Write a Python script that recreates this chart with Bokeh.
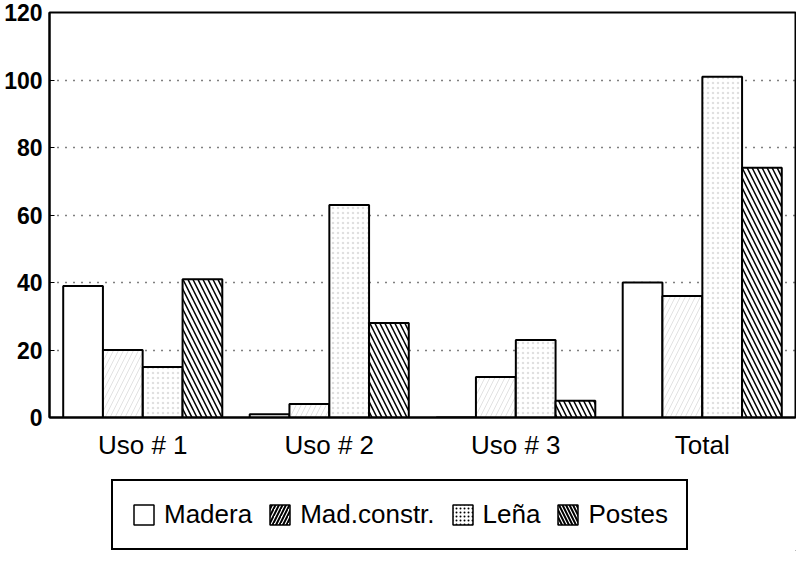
from bokeh.plotting import figure
from bokeh.models import (FactorRange, Range1d, FixedTicker, Legend, LegendItem,
                          ColumnDataSource)
from bokeh.layouts import column
from bokeh.transform import dodge
from bokeh.embed import file_html
from bokeh.resources import INLINE

categories = ["Uso # 1", "Uso # 2", "Uso # 3", "Total"]
madera = [39, 1, 0, 40]
mad_constr = [20, 4, 12, 36]
lena = [15, 63, 23, 101]
postes = [41, 28, 5, 74]
series_names = ["Madera", "Mad.constr.", "Leña", "Postes"]
y_ticks = [0, 20, 40, 60, 80, 100, 120]

FONT = "Liberation Sans"

source = ColumnDataSource(dict(cat=categories, madera=madera, mad_constr=mad_constr,
                               lena=lena, postes=postes))

p = figure(width=796, height=462, x_range=FactorRange(factors=categories),
           y_range=Range1d(0, 120), output_backend="svg", toolbar_location=None,
           min_border_left=49, min_border_right=1, min_border_top=12, min_border_bottom=42)

offsets = [-0.32, -0.107, 0.107, 0.32]
bw = 0.213
cols = ["madera", "mad_constr", "lena", "postes"]
bar_styles = [
    dict(hatch_pattern=" "),
    dict(hatch_pattern="/", hatch_color="#e2e2e2", hatch_scale=10, hatch_weight=1),
    dict(hatch_pattern=".", hatch_color="#e0e0e0", hatch_scale=5, hatch_weight=1),
    dict(hatch_pattern="\\", hatch_color="black", hatch_scale=10, hatch_weight=1.5),
]
leg_styles = [
    dict(hatch_pattern=" "),
    dict(hatch_pattern="/", hatch_color="black", hatch_scale=7, hatch_weight=2),
    dict(hatch_pattern=".", hatch_color="black", hatch_scale=4, hatch_weight=1),
    dict(hatch_pattern="\\", hatch_color="black", hatch_scale=7, hatch_weight=2),
]

for col, off, st in zip(cols, offsets, bar_styles):
    p.vbar(x=dodge("cat", off, range=p.x_range), top=col, width=bw, source=source,
           fill_color="white", line_color="black", line_width=2, **st)

p.xgrid.grid_line_color = None
p.ygrid.grid_line_color = "black"
p.ygrid.grid_line_dash = "1 7"
p.ygrid.grid_line_width = 1.3
p.ygrid.ticker = FixedTicker(ticks=y_ticks)

p.yaxis.ticker = FixedTicker(ticks=y_ticks)
p.yaxis.major_label_text_font = FONT
p.yaxis.major_label_text_font_style = "bold"
p.yaxis.major_label_text_font_size = "23px"
p.yaxis.major_label_text_color = "black"
p.yaxis.major_label_standoff = 7
p.yaxis.major_tick_out = 0
p.yaxis.major_tick_in = 5
p.yaxis.minor_tick_line_color = None
p.yaxis.axis_line_width = 2
p.yaxis.axis_line_color = "black"

p.xaxis.major_label_text_font = FONT
p.xaxis.major_label_text_font_size = "26px"
p.xaxis.major_label_text_color = "black"
p.xaxis.major_label_standoff = 12
p.xaxis.major_tick_out = 0
p.xaxis.major_tick_in = 0
p.xaxis.axis_line_width = 2
p.xaxis.axis_line_color = "black"

p.outline_line_color = "black"
p.outline_line_width = 2
p.background_fill_color = "white"
p.border_fill_color = "white"

# legend strip below the chart
lf = figure(width=796, height=89, x_range=Range1d(0, 1), y_range=Range1d(0, 1),
            output_backend="svg", toolbar_location=None,
            min_border_left=0, min_border_right=0, min_border_top=0, min_border_bottom=0)
lf.axis.visible = False
lf.grid.grid_line_color = None
lf.outline_line_color = None
lf.background_fill_color = "white"
lf.border_fill_color = "white"

items = []
for lst, name in zip(leg_styles, series_names):
    sw = ColumnDataSource(dict(x=[5], top=[-20], bottom=[-30]))
    r = lf.vbar(x="x", top="top", bottom="bottom", width=0.1, source=sw, fill_color="white",
                line_color="black", line_width=1.5, **lst)
    items.append(LegendItem(label=name, renderers=[r]))

legend = Legend(items=items, orientation="horizontal", location=(62, 1),
                label_text_font=FONT, label_text_font_size="26px", label_text_color="black",
                glyph_width=25, glyph_height=25, label_standoff=8, spacing=15,
                padding=18, margin=0, border_line_color="black", border_line_width=2,
                border_line_alpha=1,
                background_fill_color="white", background_fill_alpha=1)
lf.add_layout(legend)

layout = column(p, lf, spacing=0)
open("out.html", "w").write(file_html(layout, INLINE))
